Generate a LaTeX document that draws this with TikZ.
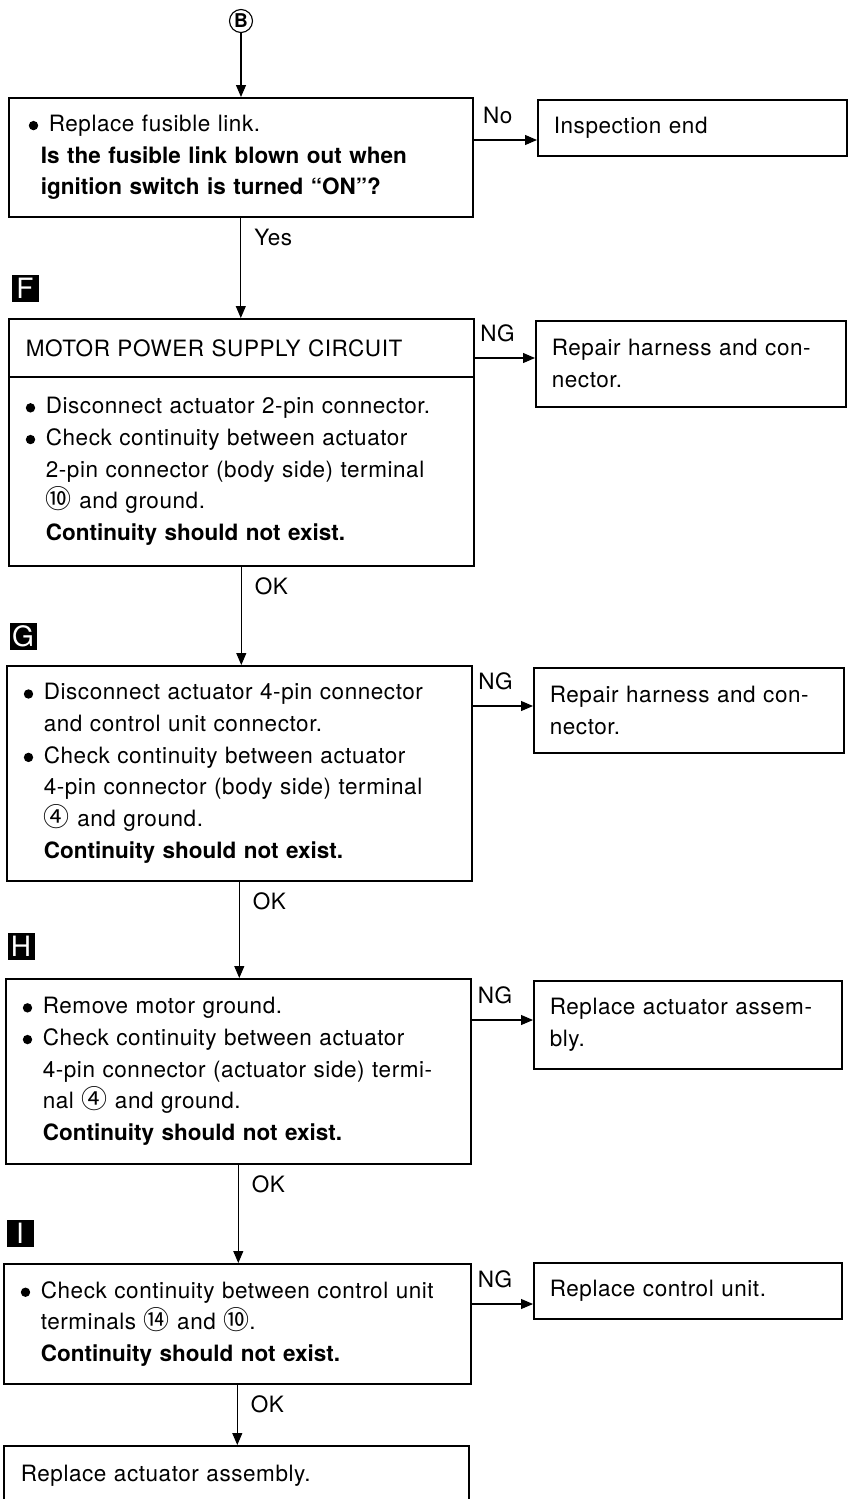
\documentclass[tikz,border=0pt]{standalone}
\usepackage{fontspec}
\setmainfont{TeX Gyre Heros}[LetterSpace=2.5, BoldFeatures={LetterSpace=0}]
\newfontfamily\cjk{Noto Sans CJK SC}
\usetikzlibrary{arrows.meta,calc}

\newcommand{\cnum}[1]{{\cjk\fontsize{26}{26}\selectfont #1}}
\newcommand{\bul}{\makebox[20pt][l]{\tikz[baseline=0pt]\fill (4.7pt,5.8pt) circle (4.7pt);}}
\newcommand{\ind}{\hspace*{20pt}}

\begin{document}
\begin{tikzpicture}[
  x=1pt, y=-1pt,
  every node/.style={font=\fontsize{22.5}{31.7}\selectfont},
  stepbox/.style={draw, line width=1.6pt, anchor=north west, align=left,
    inner xsep=17pt, inner ysep=0pt},
  endbox/.style={draw, line width=1.6pt, anchor=north west, align=left,
    inner xsep=16pt, inner ysep=0pt},
  secmark/.style={fill=black, text=white, minimum size=27pt, inner sep=0pt,
    font=\fontsize{28}{28}\selectfont},
  flow/.style={-{Triangle[length=12pt,width=10pt]}, line width=1.1pt},
  answer/.style={above=16pt, inner sep=0pt, pos=0.38},
  okmark/.style={pos=0, anchor=north west, inner sep=0pt, xshift=13pt, yshift=-11pt}
]
\path[use as bounding box, fill=white] (0,0) rectangle (851,1499);

% - start and fusible link -
\node[circle, draw, line width=1.1pt, inner sep=0pt, minimum size=23pt,
  font=\bfseries\fontsize{19}{19}\selectfont] (ptB) at (241,21) {B};
\node[stepbox, inner xsep=20pt, text width=424pt, minimum height=119pt] (fuse) at (8,97)
  {\bul Replace fusible link.\\
   \hspace*{12pt}\textbf{Is the fusible link blown out when}\\
   \hspace*{12pt}\textbf{ignition switch is turned ``ON''?}};
\node[endbox, text width=277pt, minimum height=56pt] (inspect) at (537,99) {Inspection end};

% - F. motor power supply -
\node[secmark] (markF) at (25,288) {F};
\node[stepbox, text width=431pt, minimum height=58pt] (motorhead) at (8,318)
  {MOTOR POWER SUPPLY CIRCUIT};
\node[stepbox, text width=431pt, minimum height=189pt] (motorbody) at (8,376)
  {\bul Disconnect actuator 2-pin connector.\\
   \bul Check continuity between actuator\\
   \ind 2-pin connector (body side) terminal\\
   \ind\cnum{⑩} and ground.\\
   \ind\textbf{Continuity should not exist.}};
\node[endbox, text width=278pt, minimum height=86pt] (repairF) at (535,320)
  {Repair harness and con-\\nector.};

% - G. 4-pin connector body side -
\node[secmark] (markG) at (23,636) {G};
\node[stepbox, text width=431pt, minimum height=215pt] (bodyside) at (6,665)
  {\bul Disconnect actuator 4-pin connector\\
   \ind and control unit connector.\\
   \bul Check continuity between actuator\\
   \ind 4-pin connector (body side) terminal\\
   \ind\cnum{④} and ground.\\
   \ind\textbf{Continuity should not exist.}};
\node[endbox, text width=278pt, minimum height=85pt] (repairG) at (533,667)
  {Repair harness and con-\\nector.};

% - H. motor ground -
\node[secmark] (markH) at (21,946) {H};
\node[stepbox, text width=431pt, minimum height=185pt] (motorgnd) at (5,978)
  {\bul Remove motor ground.\\
   \bul Check continuity between actuator\\
   \ind 4-pin connector (actuator side) termi-\\
   \ind nal \cnum{④} and ground.\\
   \ind\textbf{Continuity should not exist.}};
\node[endbox, text width=276pt, minimum height=88pt] (replaceH) at (533,980)
  {Replace actuator assem-\\bly.};

% - I. control unit -
\node[secmark] (markI) at (20,1233) {I};
\node[stepbox, text width=433pt, minimum height=120pt] (ctrlunit) at (3,1263)
  {\bul Check continuity between control unit\\
   \ind terminals \cnum{⑭} and \cnum{⑩}.\\
   \ind\textbf{Continuity should not exist.}};
\node[endbox, text width=276pt, minimum height=56pt] (replaceI) at (533,1262)
  {Replace control unit.};

\node[stepbox, text width=431pt, minimum height=60pt] (final) at (3,1445)
  {Replace actuator assembly.};

% - connectors -
\draw[flow] (ptB) -- (ptB |- fuse.north);
\draw[flow] (fuse.south) -- node[okmark] {Yes} (fuse.south |- motorhead.north);
\draw[flow] (motorbody.south) -- node[okmark] {OK} (motorbody.south |- bodyside.north);
\draw[flow] (bodyside.south) -- node[okmark] {OK} (bodyside.south |- motorgnd.north);
\draw[flow] (motorgnd.south) -- node[okmark] {OK} (motorgnd.south |- ctrlunit.north);
\draw[flow] (ctrlunit.south) -- node[okmark] {OK} (ctrlunit.south |- final.north);

\draw[flow] (fuse.east |- 0,140) -- node[answer] {No} (inspect.west |- 0,140);
\draw[flow] (motorhead.east |- 0,358) -- node[answer] {NG} (repairF.west |- 0,358);
\draw[flow] (bodyside.east |- 0,706) -- node[answer] {NG} (repairG.west |- 0,706);
\draw[flow] (motorgnd.east |- 0,1020) -- node[answer] {NG} (replaceH.west |- 0,1020);
\draw[flow] (ctrlunit.east |- 0,1304) -- node[answer] {NG} (replaceI.west |- 0,1304);

\end{tikzpicture}
\end{document}
